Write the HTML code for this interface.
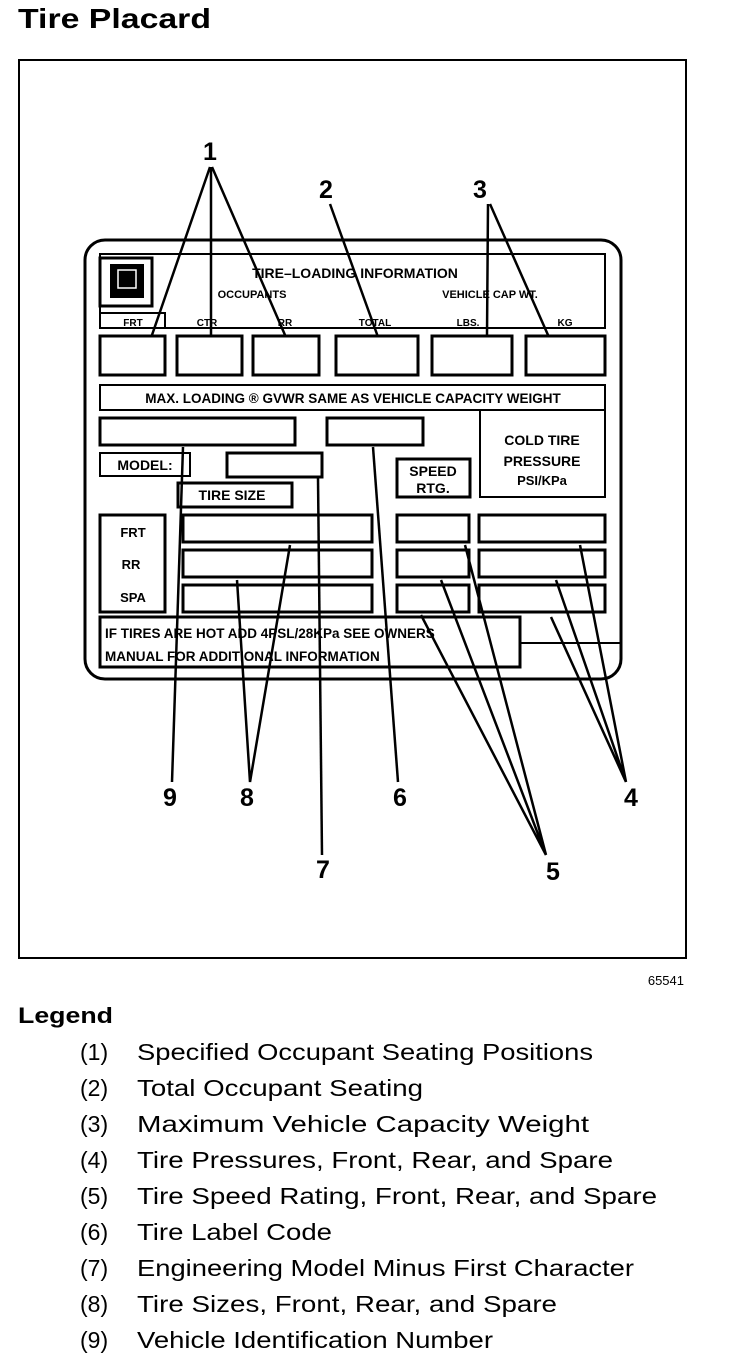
<!DOCTYPE html>
<html><head><style>
body{margin:0;background:#fff;width:736px;height:1360px;overflow:hidden;font-family:"Liberation Sans",sans-serif}
</style></head><body>
<svg width="736" height="1360" viewBox="0 0 736 1360" xmlns="http://www.w3.org/2000/svg" font-family="Liberation Sans, sans-serif">
<text x="18" y="28" font-size="28" font-weight="bold" textLength="193" lengthAdjust="spacingAndGlyphs">Tire Placard</text>
<rect x="19" y="60" width="667" height="898" fill="none" stroke="#000" stroke-width="2"/>
<g fill="none" stroke="#000" stroke-width="3">
<rect x="85" y="240" width="536" height="439" rx="20"/>
<rect x="100" y="254" width="505" height="74" stroke-width="2"/>
<rect x="100" y="258" width="52" height="48" fill="#fff"/>
<rect x="100" y="313" width="65" height="15" stroke-width="2"/>
<rect x="100" y="336" width="65" height="39"/>
<rect x="177" y="336" width="65" height="39"/>
<rect x="253" y="336" width="66" height="39"/>
<rect x="336" y="336" width="82" height="39"/>
<rect x="432" y="336" width="80" height="39"/>
<rect x="526" y="336" width="79" height="39"/>
<rect x="100" y="385" width="505" height="25" stroke-width="2"/>
<rect x="480" y="410" width="125" height="87" stroke-width="2"/>
<rect x="100" y="418" width="195" height="27"/>
<rect x="327" y="418" width="96" height="27"/>
<rect x="100" y="453" width="90" height="23" stroke-width="2"/>
<rect x="227" y="453" width="95" height="24"/>
<rect x="397" y="459" width="73" height="38"/>
<rect x="178" y="483" width="114" height="24"/>
<rect x="100" y="515" width="65" height="97"/>
<rect x="183" y="515" width="189" height="27"/>
<rect x="183" y="550" width="189" height="27"/>
<rect x="183" y="585" width="189" height="27"/>
<rect x="397" y="515" width="72" height="27"/>
<rect x="397" y="550" width="72" height="27"/>
<rect x="397" y="585" width="72" height="27"/>
<rect x="479" y="515" width="126" height="27"/>
<rect x="479" y="550" width="126" height="27"/>
<rect x="479" y="585" width="126" height="27"/>
<rect x="100" y="617" width="420" height="50"/>
<line x1="520" y1="643" x2="621" y2="643" stroke-width="2"/>
</g>
<rect x="110" y="264" width="34" height="34" fill="#000"/>
<rect x="118" y="270" width="18" height="18" fill="none" stroke="#fff" stroke-width="1.5"/>
<g font-size="12" font-weight="bold" text-anchor="middle">
<text x="355" y="278" font-size="14">TIRE–LOADING INFORMATION</text>
<text x="252" y="298" font-size="11">OCCUPANTS</text>
<text x="490" y="298" font-size="11">VEHICLE CAP WT.</text>
<text x="133" y="326" font-size="10">FRT</text>
<text x="207" y="326" font-size="10">CTR</text>
<text x="285" y="326" font-size="10">RR</text>
<text x="375" y="326" font-size="10">TOTAL</text>
<text x="468" y="326" font-size="10">LBS.</text>
<text x="565" y="326" font-size="10">KG</text>
<text x="353" y="403" font-size="13.5">MAX. LOADING ® GVWR SAME AS VEHICLE CAPACITY WEIGHT</text>
<text x="542" y="445" font-size="14">COLD TIRE</text>
<text x="542" y="466" font-size="14">PRESSURE</text>
<text x="542" y="485" font-size="13">PSI/KPa</text>
<text x="145" y="470" font-size="14">MODEL:</text>
<text x="433" y="476" font-size="14">SPEED</text>
<text x="433" y="493" font-size="14">RTG.</text>
<text x="232" y="500" font-size="14">TIRE SIZE</text>
<text x="133" y="537" font-size="13">FRT</text>
<text x="131" y="569" font-size="13">RR</text>
<text x="133" y="602" font-size="13">SPA</text>
</g>
<g font-size="13.5" font-weight="bold">
<text x="105" y="638">IF TIRES ARE HOT ADD 4PSL/28KPa SEE OWNERS</text>
<text x="105" y="661">MANUAL FOR ADDITIONAL INFORMATION</text>
</g>
<g stroke="#000" stroke-width="2.5" fill="none">
<path d="M210 167L152 335M211 167L211 335M212 167L285 335"/>
<path d="M330 204L378 337"/>
<path d="M488 204L487 335M490 204L548 335"/>
<path d="M626 782L580 545M626 782L556 580M626 782L551 617"/>
<path d="M546 855L465 545M546 855L441 580M546 855L421 615"/>
<path d="M398 782L373 447"/>
<path d="M322 855L318 478"/>
<path d="M250 782L290 545M250 782L237 580"/>
<path d="M172 782L183 447"/>
</g>
<g font-size="25" font-weight="bold" text-anchor="middle">
<text x="210" y="160">1</text>
<text x="326" y="198">2</text>
<text x="480" y="198">3</text>
<text x="631" y="806">4</text>
<text x="553" y="880">5</text>
<text x="400" y="806">6</text>
<text x="323" y="878">7</text>
<text x="247" y="806">8</text>
<text x="170" y="806">9</text>
</g>
<text x="684" y="985" font-size="13" text-anchor="end">65541</text>
<text x="18" y="1023" font-size="22" font-weight="bold" textLength="95" lengthAdjust="spacingAndGlyphs">Legend</text>
<g font-size="23">
<text x="80" y="1060">(1)</text><text x="137" y="1060" textLength="456" lengthAdjust="spacingAndGlyphs">Specified Occupant Seating Positions</text>
<text x="80" y="1096">(2)</text><text x="137" y="1096" textLength="286" lengthAdjust="spacingAndGlyphs">Total Occupant Seating</text>
<text x="80" y="1132">(3)</text><text x="137" y="1132" textLength="452" lengthAdjust="spacingAndGlyphs">Maximum Vehicle Capacity Weight</text>
<text x="80" y="1168">(4)</text><text x="137" y="1168" textLength="476" lengthAdjust="spacingAndGlyphs">Tire Pressures, Front, Rear, and Spare</text>
<text x="80" y="1204">(5)</text><text x="137" y="1204" textLength="520" lengthAdjust="spacingAndGlyphs">Tire Speed Rating, Front, Rear, and Spare</text>
<text x="80" y="1240">(6)</text><text x="137" y="1240" textLength="195" lengthAdjust="spacingAndGlyphs">Tire Label Code</text>
<text x="80" y="1276">(7)</text><text x="137" y="1276" textLength="497" lengthAdjust="spacingAndGlyphs">Engineering Model Minus First Character</text>
<text x="80" y="1312">(8)</text><text x="137" y="1312" textLength="420" lengthAdjust="spacingAndGlyphs">Tire Sizes, Front, Rear, and Spare</text>
<text x="80" y="1348">(9)</text><text x="137" y="1348" textLength="356" lengthAdjust="spacingAndGlyphs">Vehicle Identification Number</text>
</g>
</svg>
</body></html>
